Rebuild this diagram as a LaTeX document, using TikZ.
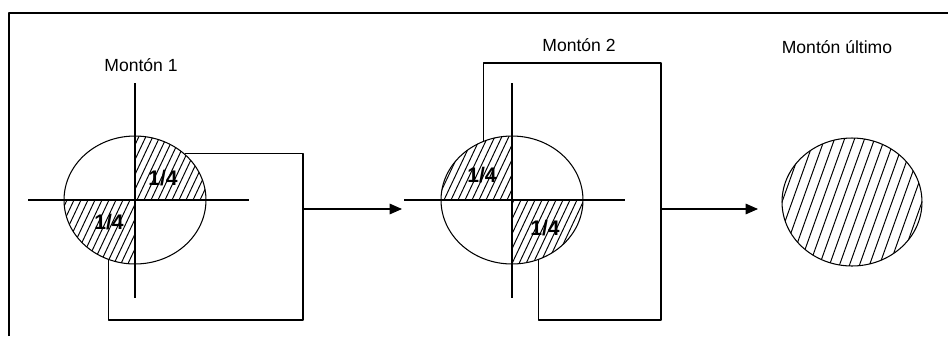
\documentclass[tikz,border=0pt]{standalone}
\usepackage{fontspec}
\setmainfont{Liberation Sans}
\usetikzlibrary{arrows.meta,shapes.geometric}
\begin{document}
\begin{tikzpicture}[x=0.02cm,y=-0.02cm,line join=round,font=\fontsize{10}{11}\selectfont,
	pila/.style={ellipse,draw,line width=0.6pt,minimum width=2.84cm,minimum height=2.56cm,inner sep=0pt},
	raya/.style={line width=0.55pt},
	eje/.style={line width=0.6pt},
	flecha/.style={line width=0.6pt,-{Triangle[length=7pt,width=6pt]}},
	cuarto/.style={font=\fontsize{12}{12}\selectfont\bfseries}]
	\useasboundingbox (0,0) rectangle (948,336);
	%marco
	\draw[line width=0.8pt] (9,336)--(9,13)--(948,13);
	%Monton 1
	\begin{scope}
		\clip (135,200) ellipse [x radius=71,y radius=64];
		\clip (135,130) rectangle (210,200);
		\foreach \i in {-110,-103,...,110} \draw[raya] ({135+\i-33},270)--({135+\i+33},130);
	\end{scope}
	\begin{scope}
		\clip (135,200) ellipse [x radius=71,y radius=64];
		\clip (60,200) rectangle (135,270);
		\foreach \i in {-110,-103,...,110} \draw[raya] ({135+\i-33},270)--({135+\i+33},130);
	\end{scope}
	\node[pila] (m1) at (135,200) {};
	\draw[eje] (135,83)--(135,298) (28,200)--(249,200);
	\node (t1) at (141,65) {Montón 1};
	\node[cuarto] (q11) at (163,178) {1/4};
	\node[cuarto] (q12) at (109,222) {1/4};
	%Monton 2
	\begin{scope}
		\clip (512,200) ellipse [x radius=71,y radius=64];
		\clip (440,130) rectangle (512,200);
		\foreach \i in {-110,-103,...,110} \draw[raya] ({512+\i-33},270)--({512+\i+33},130);
	\end{scope}
	\begin{scope}
		\clip (512,200) ellipse [x radius=71,y radius=64];
		\clip (512,200) rectangle (585,270);
		\foreach \i in {-110,-103,...,110} \draw[raya] ({512+\i-33},270)--({512+\i+33},130);
	\end{scope}
	\node[pila] (m2) at (512,200) {};
	\draw[eje] (512,83)--(512,298) (404,200)--(625,200);
	\node (t2) at (579,45) {Montón 2};
	\node[cuarto] (q21) at (482,175) {1/4};
	\node[cuarto] (q22) at (545,228) {1/4};
	%Monton ultimo
	\begin{scope}
		\clip (852,202) ellipse [x radius=70,y radius=64];
		\foreach \i in {-100,-90,...,100} \draw[raya] ({852+\i-25},272)--({852+\i+25},132);
	\end{scope}
	\node[pila,minimum width=2.8cm] (m3) at (852,202) {};
	\node (t3) at (837,47) {Montón último};
	%vueltas y flechas
	\coordinate (r1) at (303,320);
	\coordinate (s1) at (303,209);
	\coordinate (e1) at (402,209);
	\draw[eje] (m1.43) -| (r1) -| (m1.246);
	\draw[flecha] (s1)--(e1);
	\coordinate (u2) at (661,63);
	\coordinate (r2) at (661,320);
	\coordinate (s2) at (661,209);
	\coordinate (e2) at (758,209);
	\draw[eje] (m2.116) |- (u2)--(r2) -| (m2.294);
	\draw[flecha] (s2)--(e2);
\end{tikzpicture}
\end{document}
